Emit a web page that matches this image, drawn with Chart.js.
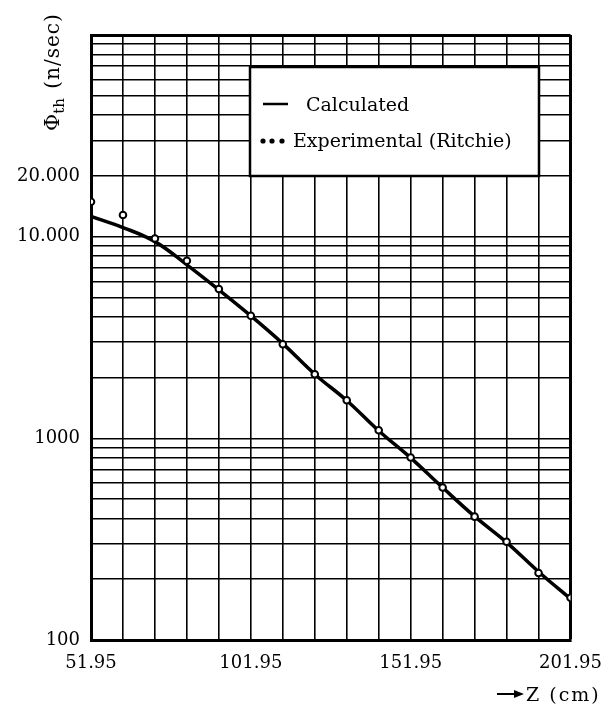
<!DOCTYPE html>
<html>
<head>
<meta charset="utf-8">
<script src="https://cdn.jsdelivr.net/npm/chart.js@4/dist/chart.umd.min.js"></script>
<style>
  body { margin: 0; background: #fff; }
</style>
</head>
<body>
<canvas id="grafico" width="615" height="709"></canvas>
<script>
// Posições Z (cm), uma por linha vertical da grade
const zCm = [51.95, 61.95, 71.95, 81.95, 91.95, 101.95, 111.95, 121.95, 131.95, 141.95, 151.95, 161.95, 171.95, 181.95, 191.95, 201.95];
// Fluxo térmico (n/sec)
const calculado = [12600, 11100, 9450, 7250, 5450, 4050, 2950, 2080, 1540, 1090, 800, 570, 410, 305, 218, 160];
const experimental = [14900, 12800, 9800, 7600, 5500, 4050, 2930, 2080, 1545, 1096, 804, 570, 409, 307, 215, 162];
// Rótulos dos eixos
const xLabelValues = [51.95, 101.95, 151.95, 201.95];
const yLabelValues = [100, 1000, 10000, 20000];
const yLabelTexts = ['100', '1000', '10.000', '20.000'];
const yMin = 100, yMax = 100000;

const serif = "'DejaVu Serif', 'Liberation Serif', serif";

// Plugin simples: legenda dentro da grade e títulos dos eixos
const legendaPlugin = {
  id: 'legenda',
  afterDraw(chart) {
    const ctx = chart.ctx;
    ctx.save();
    // caixa da legenda
    ctx.fillStyle = '#fff';
    ctx.fillRect(250, 67, 289, 109);
    ctx.strokeStyle = '#000';
    ctx.lineWidth = 2.5;
    ctx.strokeRect(250, 67, 289, 109);

    ctx.fillStyle = '#000';
    ctx.font = '19px ' + serif;
    ctx.textBaseline = 'alphabetic';
    ctx.textAlign = 'left';
    // linha "Calculated"
    ctx.lineWidth = 2.5;
    ctx.beginPath();
    ctx.moveTo(263, 104);
    ctx.lineTo(288, 104);
    ctx.stroke();
    ctx.fillText(chart.data.datasets[1].label, 306, 111);
    // pontos "Experimental"
    [263, 272, 282].forEach(px => {
      ctx.beginPath();
      ctx.arc(px, 141, 2.6, 0, Math.PI * 2);
      ctx.fill();
    });
    ctx.fillText(chart.data.datasets[0].label, 293, 147);

    // título do eixo Y (rotacionado)
    ctx.save();
    ctx.translate(59, 131);
    ctx.rotate(-Math.PI / 2);
    ctx.font = '21px ' + serif;
    ctx.fillText('Φ', 0, 0);
    let w = ctx.measureText('Φ').width;
    ctx.font = '15px ' + serif;
    ctx.fillText('th', w, 5);
    w += ctx.measureText('th').width;
    ctx.font = '20px ' + serif;
    ctx.letterSpacing = '1px';
    ctx.fillText(' (n/sec)', w + 2, 0);
    ctx.restore();

    // título do eixo X com seta
    ctx.lineWidth = 2;
    ctx.beginPath();
    ctx.moveTo(497, 694);
    ctx.lineTo(515, 694);
    ctx.stroke();
    ctx.beginPath();
    ctx.moveTo(524, 694);
    ctx.lineTo(514, 690);
    ctx.lineTo(514, 698);
    ctx.closePath();
    ctx.fill();
    ctx.font = '19px ' + serif;
    ctx.letterSpacing = '2px';
    ctx.fillText('Z (cm)', 526, 701);
    ctx.restore();
  }
};

const ctxGrafico = document.getElementById('grafico').getContext('2d');
new Chart(ctxGrafico, {
  type: 'line',
  data: {
    datasets: [
      {
        label: 'Experimental (Ritchie)',
        data: zCm.map((z, i) => ({ x: z, y: experimental[i] })),
        showLine: false,
        pointRadius: 3.3,
        pointBackgroundColor: '#fff',
        pointBorderColor: '#000',
        pointBorderWidth: 2,
        order: 0,
      },
      {
        label: 'Calculated',
        data: zCm.map((z, i) => ({ x: z, y: calculado[i] })),
        borderColor: '#000',
        borderWidth: 3.5,
        pointRadius: 0,
        tension: 0.4,
        fill: false,
        order: 1,
      },
    ],
  },
  options: {
    responsive: false,
    animation: false,
    layout: {
      padding: { left: 0, top: 35, right: 44, bottom: 0 },
    },
    plugins: {
      legend: { display: false },
      tooltip: { enabled: false },
    },
    scales: {
      x: {
        type: 'linear',
        min: zCm[0],
        max: zCm[zCm.length - 1],
        afterBuildTicks: (scale) => {
          scale.ticks = zCm.map(v => ({ value: v }));
        },
        afterFit: (scale) => { scale.height = 69; },
        grid: {
          color: '#000',
          lineWidth: (c) => (c.index === zCm.length - 1 ? 3 : 1.6),
          drawTicks: false,
        },
        border: { color: '#000', width: 3 },
        ticks: {
          autoSkip: false,
          maxRotation: 0,
          padding: 13,
          color: '#000',
          font: { family: serif, size: 18 },
          callback: (value) => {
            const hit = xLabelValues.find(v => Math.abs(v - value) < 0.001);
            return hit !== undefined ? hit.toFixed(2) : '';
          },
        },
      },
      y: {
        type: 'logarithmic',
        min: yMin,
        max: yMax,
        afterBuildTicks: (scale) => {
          const ticks = [];
          for (let d = yMin; d < yMax; d *= 10) {
            for (let s = 1; s < 10; s++) ticks.push({ value: s * d });
          }
          ticks.push({ value: yMax });
          scale.ticks = ticks;
        },
        afterFit: (scale) => { scale.width = 91; },
        grid: {
          color: '#000',
          lineWidth: (c) => (c.tick && c.tick.value === yMax ? 3 : 1.6),
          drawTicks: false,
        },
        border: { color: '#000', width: 3 },
        ticks: {
          autoSkip: false,
          padding: 11,
          color: '#000',
          font: { family: serif, size: 18 },
          callback: (value) => {
            const i = yLabelValues.indexOf(value);
            return i >= 0 ? yLabelTexts[i] : '';
          },
        },
      },
    },
  },
  plugins: [legendaPlugin],
});
</script>
</body>
</html>
